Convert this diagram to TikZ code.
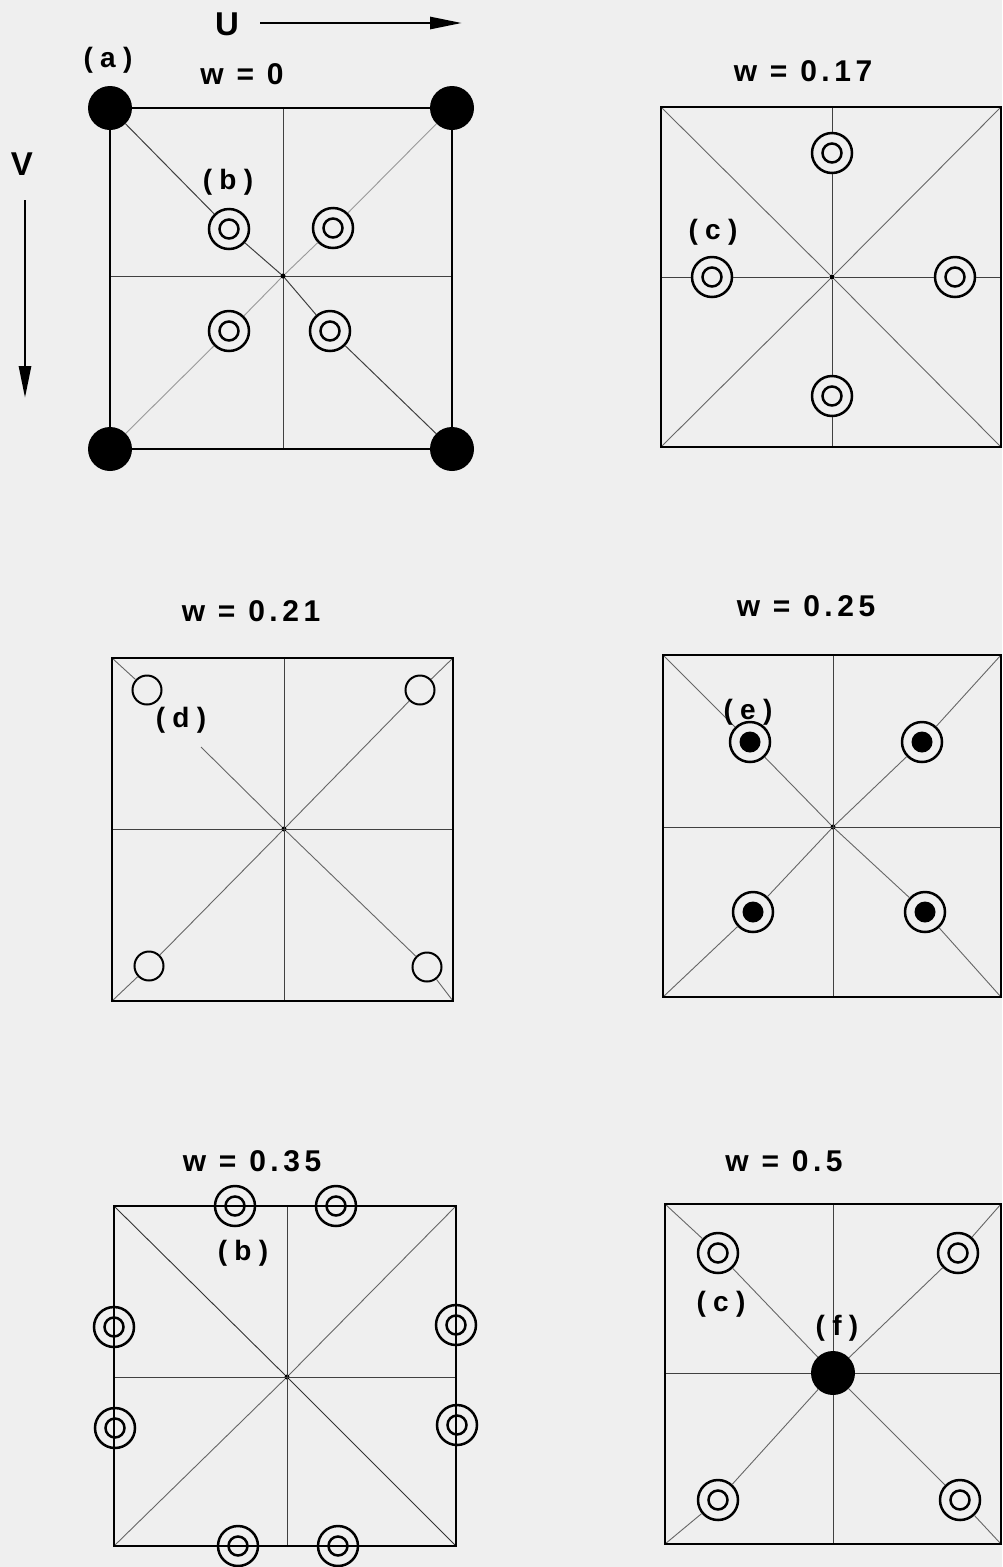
\documentclass[tikz,border=0pt]{standalone}
\usepackage{fontspec}
\setmainfont{Liberation Sans}
\newfontfamily\labfont[LetterSpace=26]{Liberation Sans}
\newfontfamily\wfont[LetterSpace=15]{Liberation Sans}
\usetikzlibrary{arrows.meta}
\definecolor{bg}{RGB}{239,239,239}
\begin{document}
\begin{tikzpicture}[x=1pt,y=-1pt,
  frame/.style={line width=2.8pt, line join=miter},
  mid/.style={line width=1pt, black!75},
  diag/.style={line width=0.9pt, black!60},
  cdot/.style={circle, fill=black, inner sep=0pt, minimum size=5pt},
  ring/.style={circle, draw, line width=2.5pt, inner sep=0pt, minimum size=40pt, fill=bg,
     path picture={\draw[black, line width=2.5pt] (path picture bounding box.center) circle (9.5pt);}},
  oring/.style={circle, draw, line width=2.5pt, inner sep=0pt, minimum size=40pt,
     path picture={\draw[black, line width=2.5pt] (path picture bounding box.center) circle (9.5pt);}},
  fring/.style={circle, draw, line width=2.5pt, inner sep=0pt, minimum size=40pt, fill=bg,
     path picture={\fill[black] (path picture bounding box.center) circle (10.5pt);}},
  open/.style={circle, draw, line width=2pt, inner sep=0pt, minimum size=29pt, fill=bg},
  disc/.style={circle, fill=black, inner sep=0pt, minimum size=44pt},
  lab/.style={inner sep=0pt, font=\labfont\bfseries\fontsize{28}{28}\selectfont},
  wlab/.style={inner sep=0pt, font=\wfont\bfseries\fontsize{30}{30}\selectfont},
  axlab/.style={inner sep=0pt, font=\bfseries\fontsize{33}{33}\selectfont},
  axis/.style={line width=2.8pt, -{Triangle[length=32pt,width=12pt]}}
]
\fill[bg] (0,0) rectangle (1002,1567);
\useasboundingbox (0,0) rectangle (1002,1567);

% ---------- axes ----------
\node[axlab] (U) at (227,24) {U};
\node[axlab] (V) at (22,164) {V};
\coordinate (us) at (260,23); \coordinate (ue) at (462,23);
\coordinate (vs) at (25,200); \coordinate (ve) at (25,398);
\draw[axis] (us) -- (ue);
\draw[axis] (vs) -- (ve);

% ---------- panel 1: w = 0 ----------
\node[wlab] (w1) at (242,74) {w = 0};
\node[lab] (la) at (108,60) {(a)};
\coordinate (p1t) at (283,108); \coordinate (p1b) at (283,449);
\coordinate (p1l) at (110,276); \coordinate (p1r) at (452,276);
\draw[mid] (p1t) -- (p1b);
\draw[mid] (p1l) -- (p1r);
\node[cdot] (p1c) at (283,276) {};
\node[disc] (p1A) at (110,108) {};
\node[disc] (p1B) at (452,108) {};
\node[disc] (p1C) at (110,449) {};
\node[disc] (p1D) at (452,449) {};
\node[ring] (p1r1) at (229,229) {};
\node[ring] (p1r2) at (333,228) {};
\node[ring] (p1r3) at (229,331) {};
\node[ring] (p1r4) at (330,331) {};
\draw[frame] (p1A) -- (p1B);
\draw[frame] (p1B) -- (p1D);
\draw[frame] (p1D) -- (p1C);
\draw[frame] (p1C) -- (p1A);
\draw[mid] (p1A) -- (p1r1) -- (p1c) -- (p1r4) -- (p1D);
\draw[diag, black!40] (p1B) -- (p1r2) -- (p1c) -- (p1r3) -- (p1C);
\node[lab] (lb1) at (228,182) {(b)};

% ---------- panel 2: w = 0.17 ----------
\node[wlab] (w2) at (803,71) {w = 0.17};
\coordinate (p2A) at (661,107); \coordinate (p2B) at (1001,107);
\coordinate (p2C) at (661,447); \coordinate (p2D) at (1001,447);
\coordinate (p2t) at (832,107); \coordinate (p2b) at (832,447);
\coordinate (p2l) at (661,277); \coordinate (p2r) at (1001,277);
\node[cdot] (p2c) at (832,277) {};
\node[ring] (p2r1) at (832,153) {};
\node[ring] (p2r2) at (712,277) {};
\node[ring] (p2r3) at (955,277) {};
\node[ring] (p2r4) at (832,396) {};
\draw[diag] (p2A) -- (p2c) -- (p2D);
\draw[diag] (p2B) -- (p2c) -- (p2C);
\draw[mid] (p2t) -- (p2r1) -- (p2c) -- (p2r4) -- (p2b);
\draw[mid] (p2l) -- (p2r2) -- (p2c) -- (p2r3) -- (p2r);
\draw[frame] (p2A) -- (p2B) -- (p2D) -- (p2C) -- cycle;
\node[lab] (lc1) at (713,232) {(c)};

% ---------- panel 3: w = 0.21 ----------
\node[wlab] (w3) at (251,611) {w = 0.21};
\coordinate (p3A) at (112,658); \coordinate (p3B) at (453,658);
\coordinate (p3C) at (112,1001); \coordinate (p3D) at (453,1001);
\coordinate (p3t) at (284,658); \coordinate (p3b) at (284,1001);
\coordinate (p3l) at (112,829); \coordinate (p3r) at (453,829);
\coordinate (p3g) at (201,747);
\node[cdot] (p3c) at (284,829) {};
\node[open] (p3o1) at (147,690) {};
\node[open] (p3o2) at (420,690) {};
\node[open] (p3o3) at (149,966) {};
\node[open] (p3o4) at (427,967) {};
\draw[mid] (p3t) -- (p3b);
\draw[mid] (p3l) -- (p3r);
\draw[diag] (p3A) -- (p3o1);
\draw[diag] (p3g) -- (p3c) -- (p3o4) -- (p3D);
\draw[diag] (p3B) -- (p3o2) -- (p3c) -- (p3o3) -- (p3C);
\draw[frame] (p3A) -- (p3B) -- (p3D) -- (p3C) -- cycle;
\node[lab] (ld) at (181,720) {(d)};

% ---------- panel 4: w = 0.25 ----------
\node[wlab] (w4) at (806,606) {w = 0.25};
\coordinate (p4A) at (663,655); \coordinate (p4B) at (1001,655);
\coordinate (p4C) at (663,997); \coordinate (p4D) at (1001,997);
\coordinate (p4t) at (833,655); \coordinate (p4b) at (833,997);
\coordinate (p4l) at (663,827); \coordinate (p4r) at (1001,827);
\node[cdot] (p4c) at (833,827) {};
\node[fring] (p4r1) at (750,742) {};
\node[fring] (p4r2) at (922,742) {};
\node[fring] (p4r3) at (753,912) {};
\node[fring] (p4r4) at (925,912) {};
\draw[mid] (p4t) -- (p4b);
\draw[mid] (p4l) -- (p4r);
\draw[diag] (p4A) -- (p4r1) -- (p4c) -- (p4r4) -- (p4D);
\draw[diag] (p4B) -- (p4r2) -- (p4c) -- (p4r3) -- (p4C);
\draw[frame] (p4A) -- (p4B) -- (p4D) -- (p4C) -- cycle;
\node[lab] (le) at (748,712) {(e)};

% ---------- panel 5: w = 0.35 ----------
\node[wlab] (w5) at (252,1161) {w = 0.35};
\coordinate (p5A) at (114,1206); \coordinate (p5B) at (456,1206);
\coordinate (p5C) at (114,1546); \coordinate (p5D) at (456,1546);
\coordinate (p5t) at (287,1206); \coordinate (p5b) at (287,1546);
\coordinate (p5l) at (114,1377); \coordinate (p5r) at (456,1377);
\node[cdot] (p5c) at (287,1377) {};
\draw[mid] (p5t) -- (p5b);
\draw[mid] (p5l) -- (p5r);
\draw[diag, black!80] (p5A) -- (p5c) -- (p5D);
\draw[diag] (p5B) -- (p5c) -- (p5C);
\draw[frame] (p5A) -- (p5B) -- (p5D) -- (p5C) -- cycle;
\node[oring] (p5r1) at (235,1206) {};
\node[oring] (p5r2) at (336,1206) {};
\node[oring] (p5r3) at (238,1546) {};
\node[oring] (p5r4) at (338,1546) {};
\node[oring] (p5r5) at (114,1327) {};
\node[oring] (p5r6) at (115,1428) {};
\node[oring] (p5r7) at (456,1325) {};
\node[oring] (p5r8) at (457,1425) {};
\node[lab] (lb2) at (243,1253) {(b)};

% ---------- panel 6: w = 0.5 ----------
\node[wlab] (w6) at (784,1161) {w = 0.5};
\coordinate (p6A) at (665,1204); \coordinate (p6B) at (1001,1204);
\coordinate (p6C) at (665,1544); \coordinate (p6D) at (1001,1544);
\coordinate (p6t) at (833,1204); \coordinate (p6b) at (833,1544);
\coordinate (p6l) at (665,1373); \coordinate (p6r) at (1001,1373);
\node[disc] (p6c) at (833,1373) {};
\node[ring] (p6r1) at (718,1253) {};
\node[ring] (p6r2) at (958,1253) {};
\node[ring] (p6r3) at (718,1500) {};
\node[ring] (p6r4) at (960,1500) {};
\draw[mid] (p6t) -- (p6c) -- (p6b);
\draw[mid] (p6l) -- (p6c) -- (p6r);
\draw[diag] (p6A) -- (p6r1) -- (p6c) -- (p6r4) -- (p6D);
\draw[diag] (p6B) -- (p6r2) -- (p6c) -- (p6r3) -- (p6C);
\draw[frame] (p6A) -- (p6B) -- (p6D) -- (p6C) -- cycle;
\node[lab] (lc2) at (721,1304) {(c)};
\node[lab] (lf) at (837,1328) {(f)};
\end{tikzpicture}
\end{document}
